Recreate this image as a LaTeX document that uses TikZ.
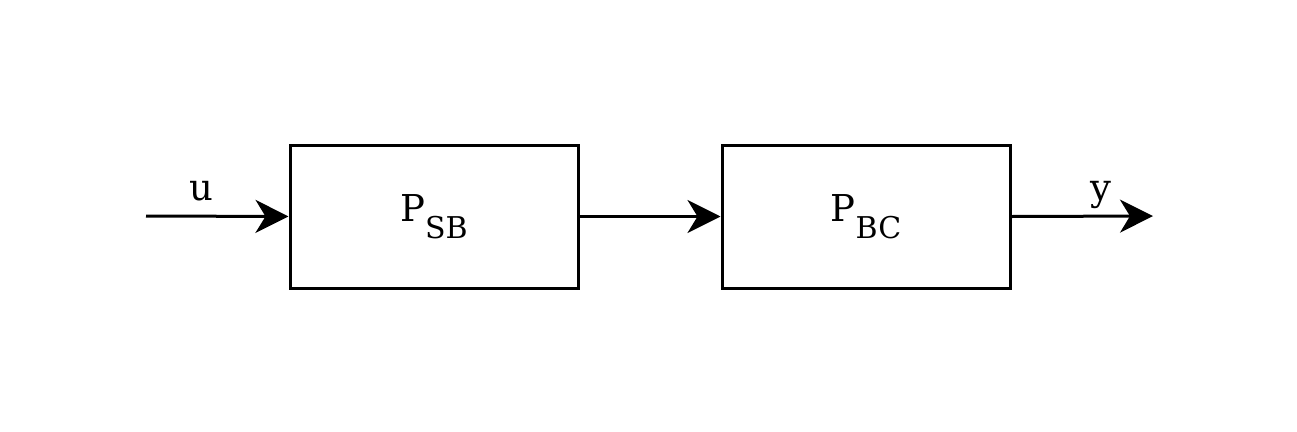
\documentclass[tikz,border=0pt]{standalone}
\usepackage{fontspec}
\setmainfont{DejaVu Serif}
\usetikzlibrary{arrows.meta}
\newcommand\psub[1]{P\raisebox{-17pt}{\fontsize{30}{30}\selectfont #1}}
\begin{document}
\begin{tikzpicture}[x=1pt,y=-1pt,
  blk/.style={draw,line width=3pt,minimum width=288pt,minimum height=143pt,inner sep=0pt,font=\fontsize{37}{37}\selectfont},
  sig/.style={line width=3pt,-{Stealth[length=33pt,width=33pt,inset=10pt]}},
  lbl/.style={inner sep=0pt,anchor=base,font=\fontsize{37}{37}\selectfont}]
\useasboundingbox (0,0) rectangle (1297,431);
\node[blk] (sb) at (434,216.5) {\psub{SB}};
\node[blk] (bc) at (866,216.5) {\psub{BC}};
\coordinate (in) at (146,216);
\coordinate (out) at (1153,216);
\draw[sig] (in) -- (sb.west);
\draw[sig] (sb.east) -- (bc.west);
\draw[sig] (bc.east) -- (out);
\node[lbl] (u) at (201.5,200) {u};
\node[lbl] (y) at (1101,200) {y};
\end{tikzpicture}
\end{document}
